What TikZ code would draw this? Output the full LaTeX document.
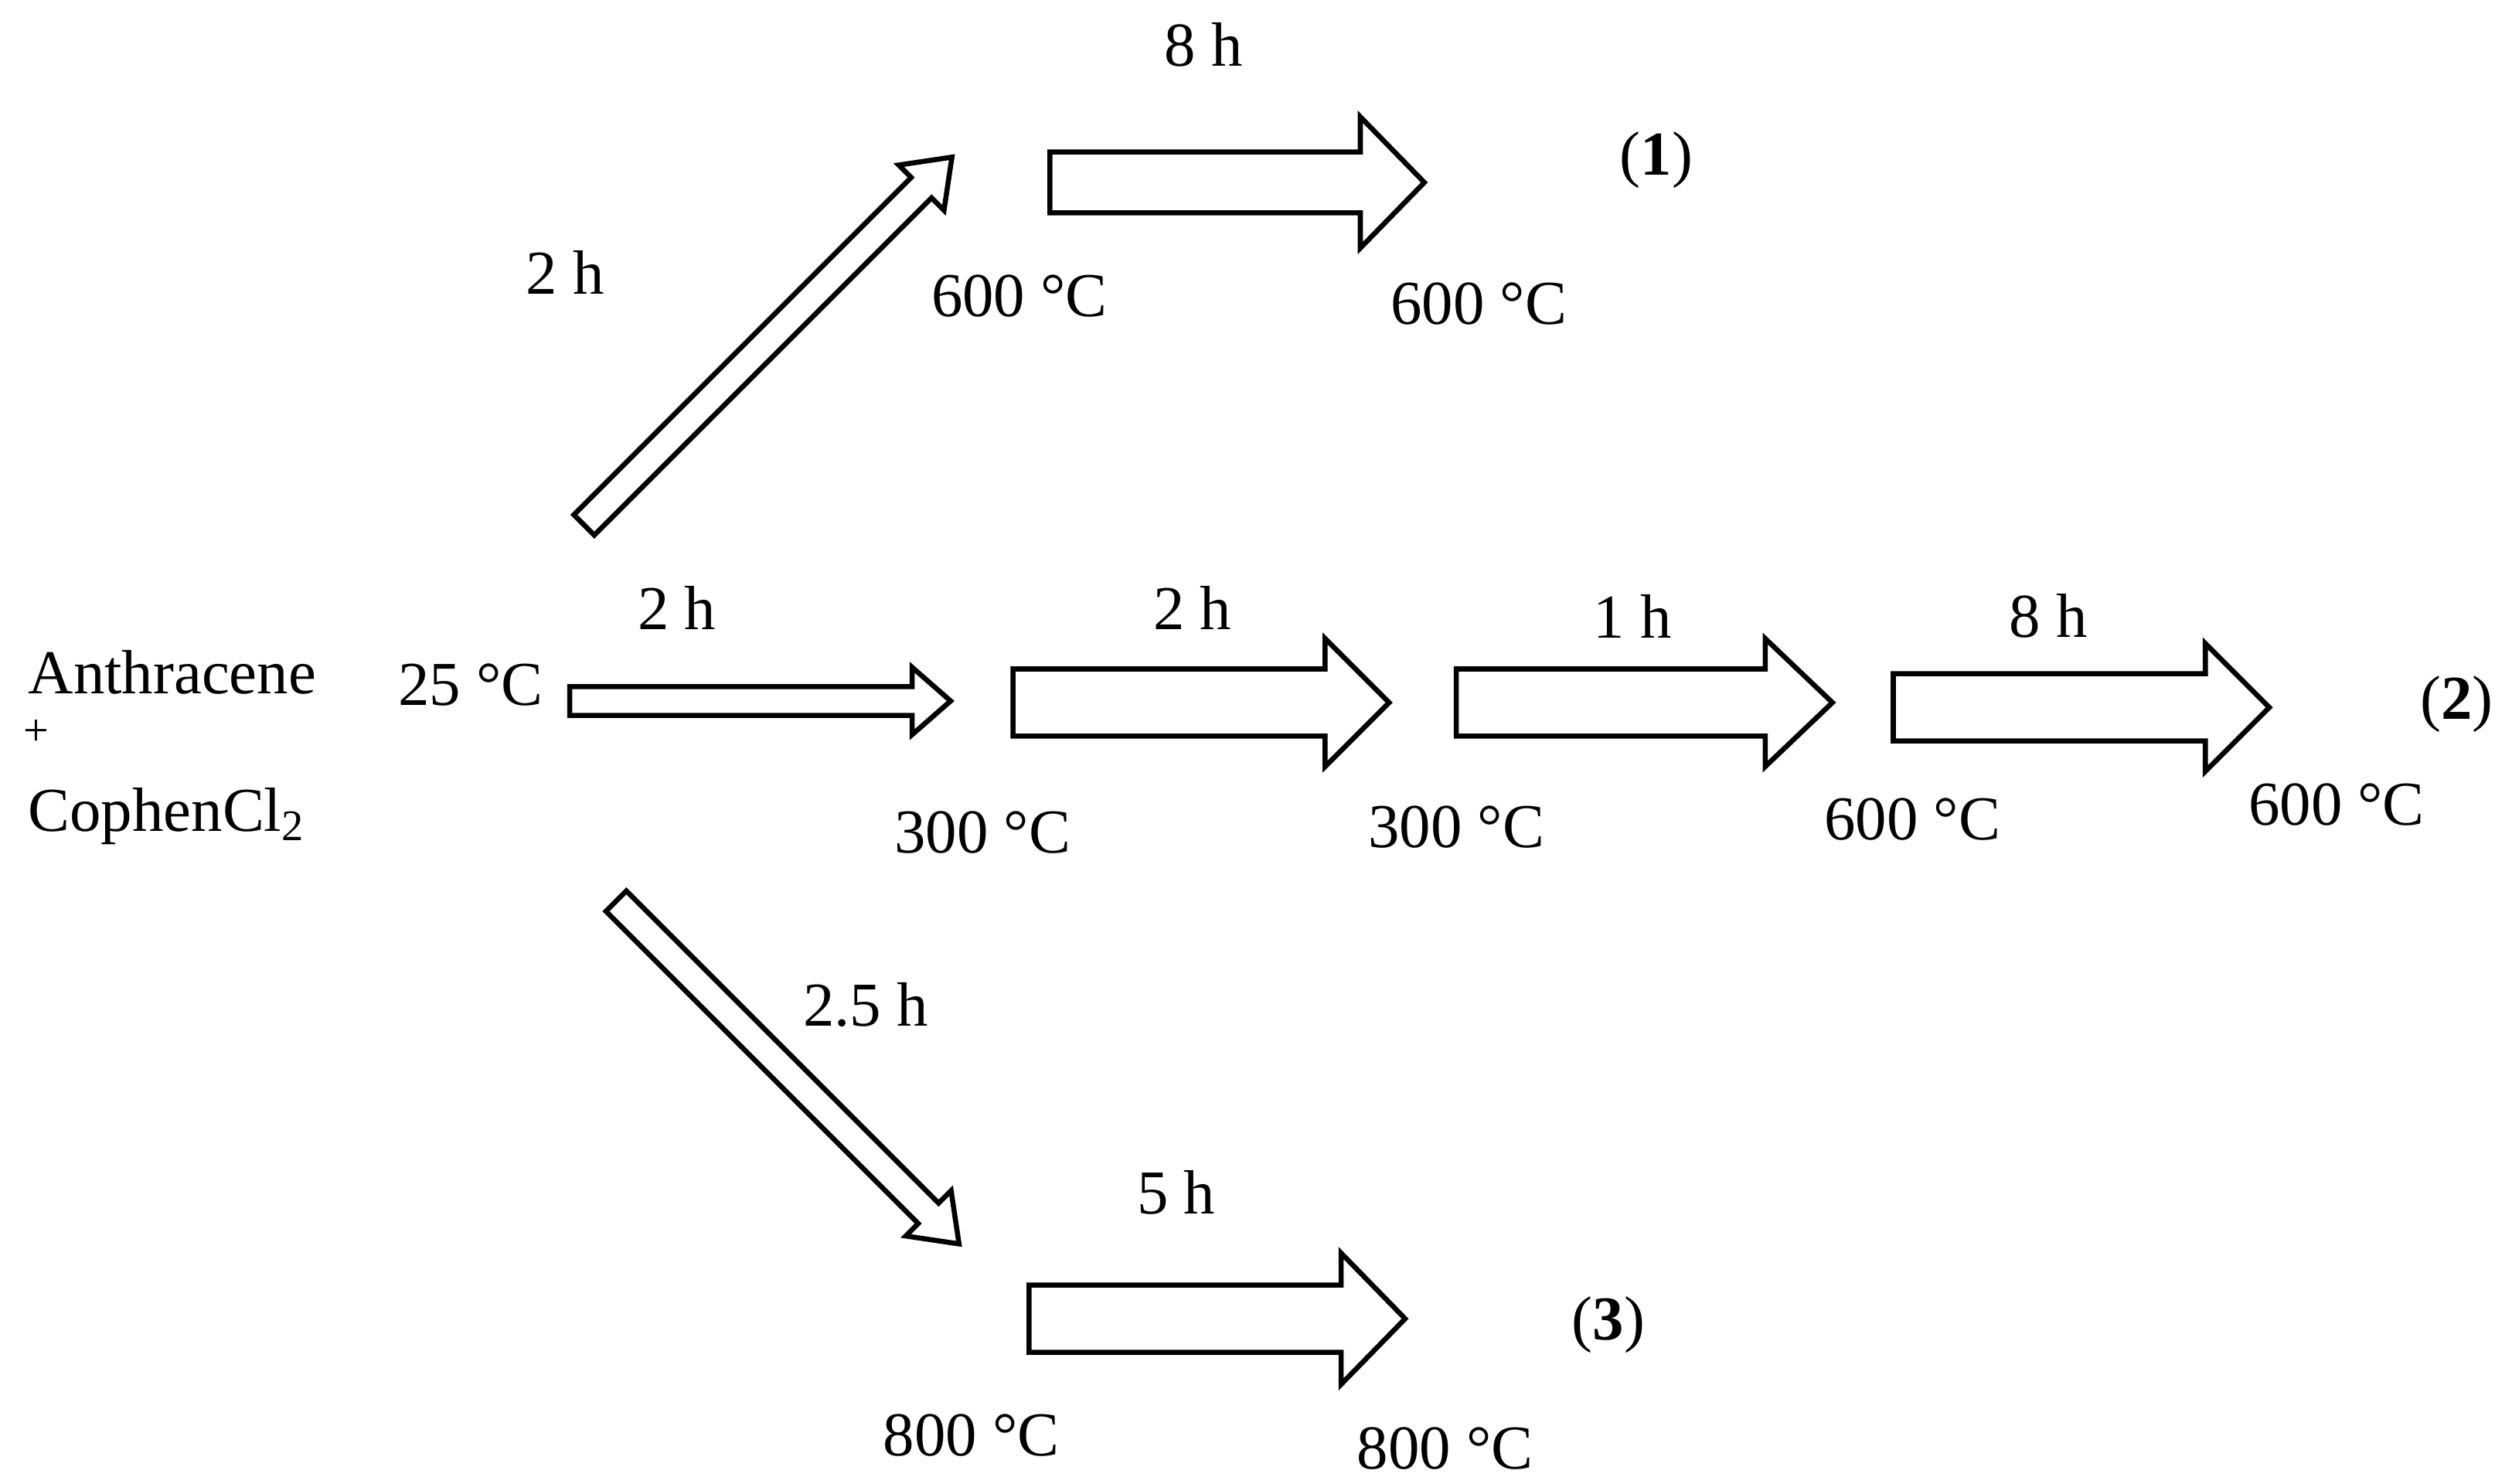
\documentclass[tikz,border=0pt]{standalone}
\usepackage{fontspec}
\setmainfont{Liberation Serif}
\begin{document}
\begin{tikzpicture}[x=0.01cm,y=-0.01cm,
  lbl/.style={font=\fontsize{11.1}{13}\selectfont,inner sep=0pt},
  arr/.style={draw,line width=0.9pt,fill=white,line join=miter}]
\useasboundingbox (0,0) rectangle (1559,927);
% block arrow: start x,y ; angle ; shaft length ; head length ; half shaft ; half head
\newcommand\barrow[7]{%
  \begin{scope}[shift={(#1,#2)},rotate=#3]
  \draw[arr] (0,-#6) -- (#4,-#6) -- (#4,-#7) -- (#4+#5,0) -- (#4,#7) -- (#4,#6) -- (0,#6) -- cycle;
  \end{scope}}
\barrow{656}{114}{0}{194}{40}{19}{41}
\barrow{356}{438}{0}{214}{24}{9}{21}
\barrow{633}{439}{0}{195}{40}{21}{40}
\barrow{910}{439}{0}{193}{42}{21}{40}
\barrow{1183}{442}{0}{195}{40}{21}{40}
\barrow{643}{824}{0}{195}{40}{21}{41}
\barrow{365}{328}{45}{298}{27}{9}{20}
\barrow{385}{563}{-45}{276}{27}{9}{20}
\node[lbl] (t1) at (752,28) {8 h};
\node[lbl] (p1) at (1035,100) {(\textbf{1})};
\node[lbl] (t2) at (353,170) {2 h};
\node[lbl] (c1) at (637,185) {600 °C};
\node[lbl] (c2) at (924,190) {600 °C};
\node[lbl] (t3) at (423,380) {2 h};
\node[lbl,anchor=west] (an) at (17,420) {Anthracene};
\node[lbl,anchor=west] (pl) at (14,458) {\fontsize{8}{9}\selectfont +};
\node[lbl,anchor=west] (co) at (17,510) {CophenCl\textsubscript{2}};
\node[lbl] (c0) at (294,428) {25 °C};
\node[lbl] (t4) at (745,380) {2 h};
\node[lbl] (t5) at (1020,385) {1 h};
\node[lbl] (t6) at (1280,385) {8 h};
\node[lbl] (p2) at (1535,440) {(\textbf{2})};
\node[lbl] (c3) at (614,520) {300 °C};
\node[lbl] (c4) at (910,517) {300 °C};
\node[lbl] (c5) at (1195,512) {600 °C};
\node[lbl] (c6) at (1460,503) {600 °C};
\node[lbl] (t7) at (541,628) {2.5 h};
\node[lbl] (t8) at (735,745) {5 h};
\node[lbl] (p3) at (1005,828) {(\textbf{3})};
\node[lbl] (c7) at (607,897) {800 °C};
\node[lbl] (c8) at (903,905) {800 °C};
\end{tikzpicture}
\end{document}
